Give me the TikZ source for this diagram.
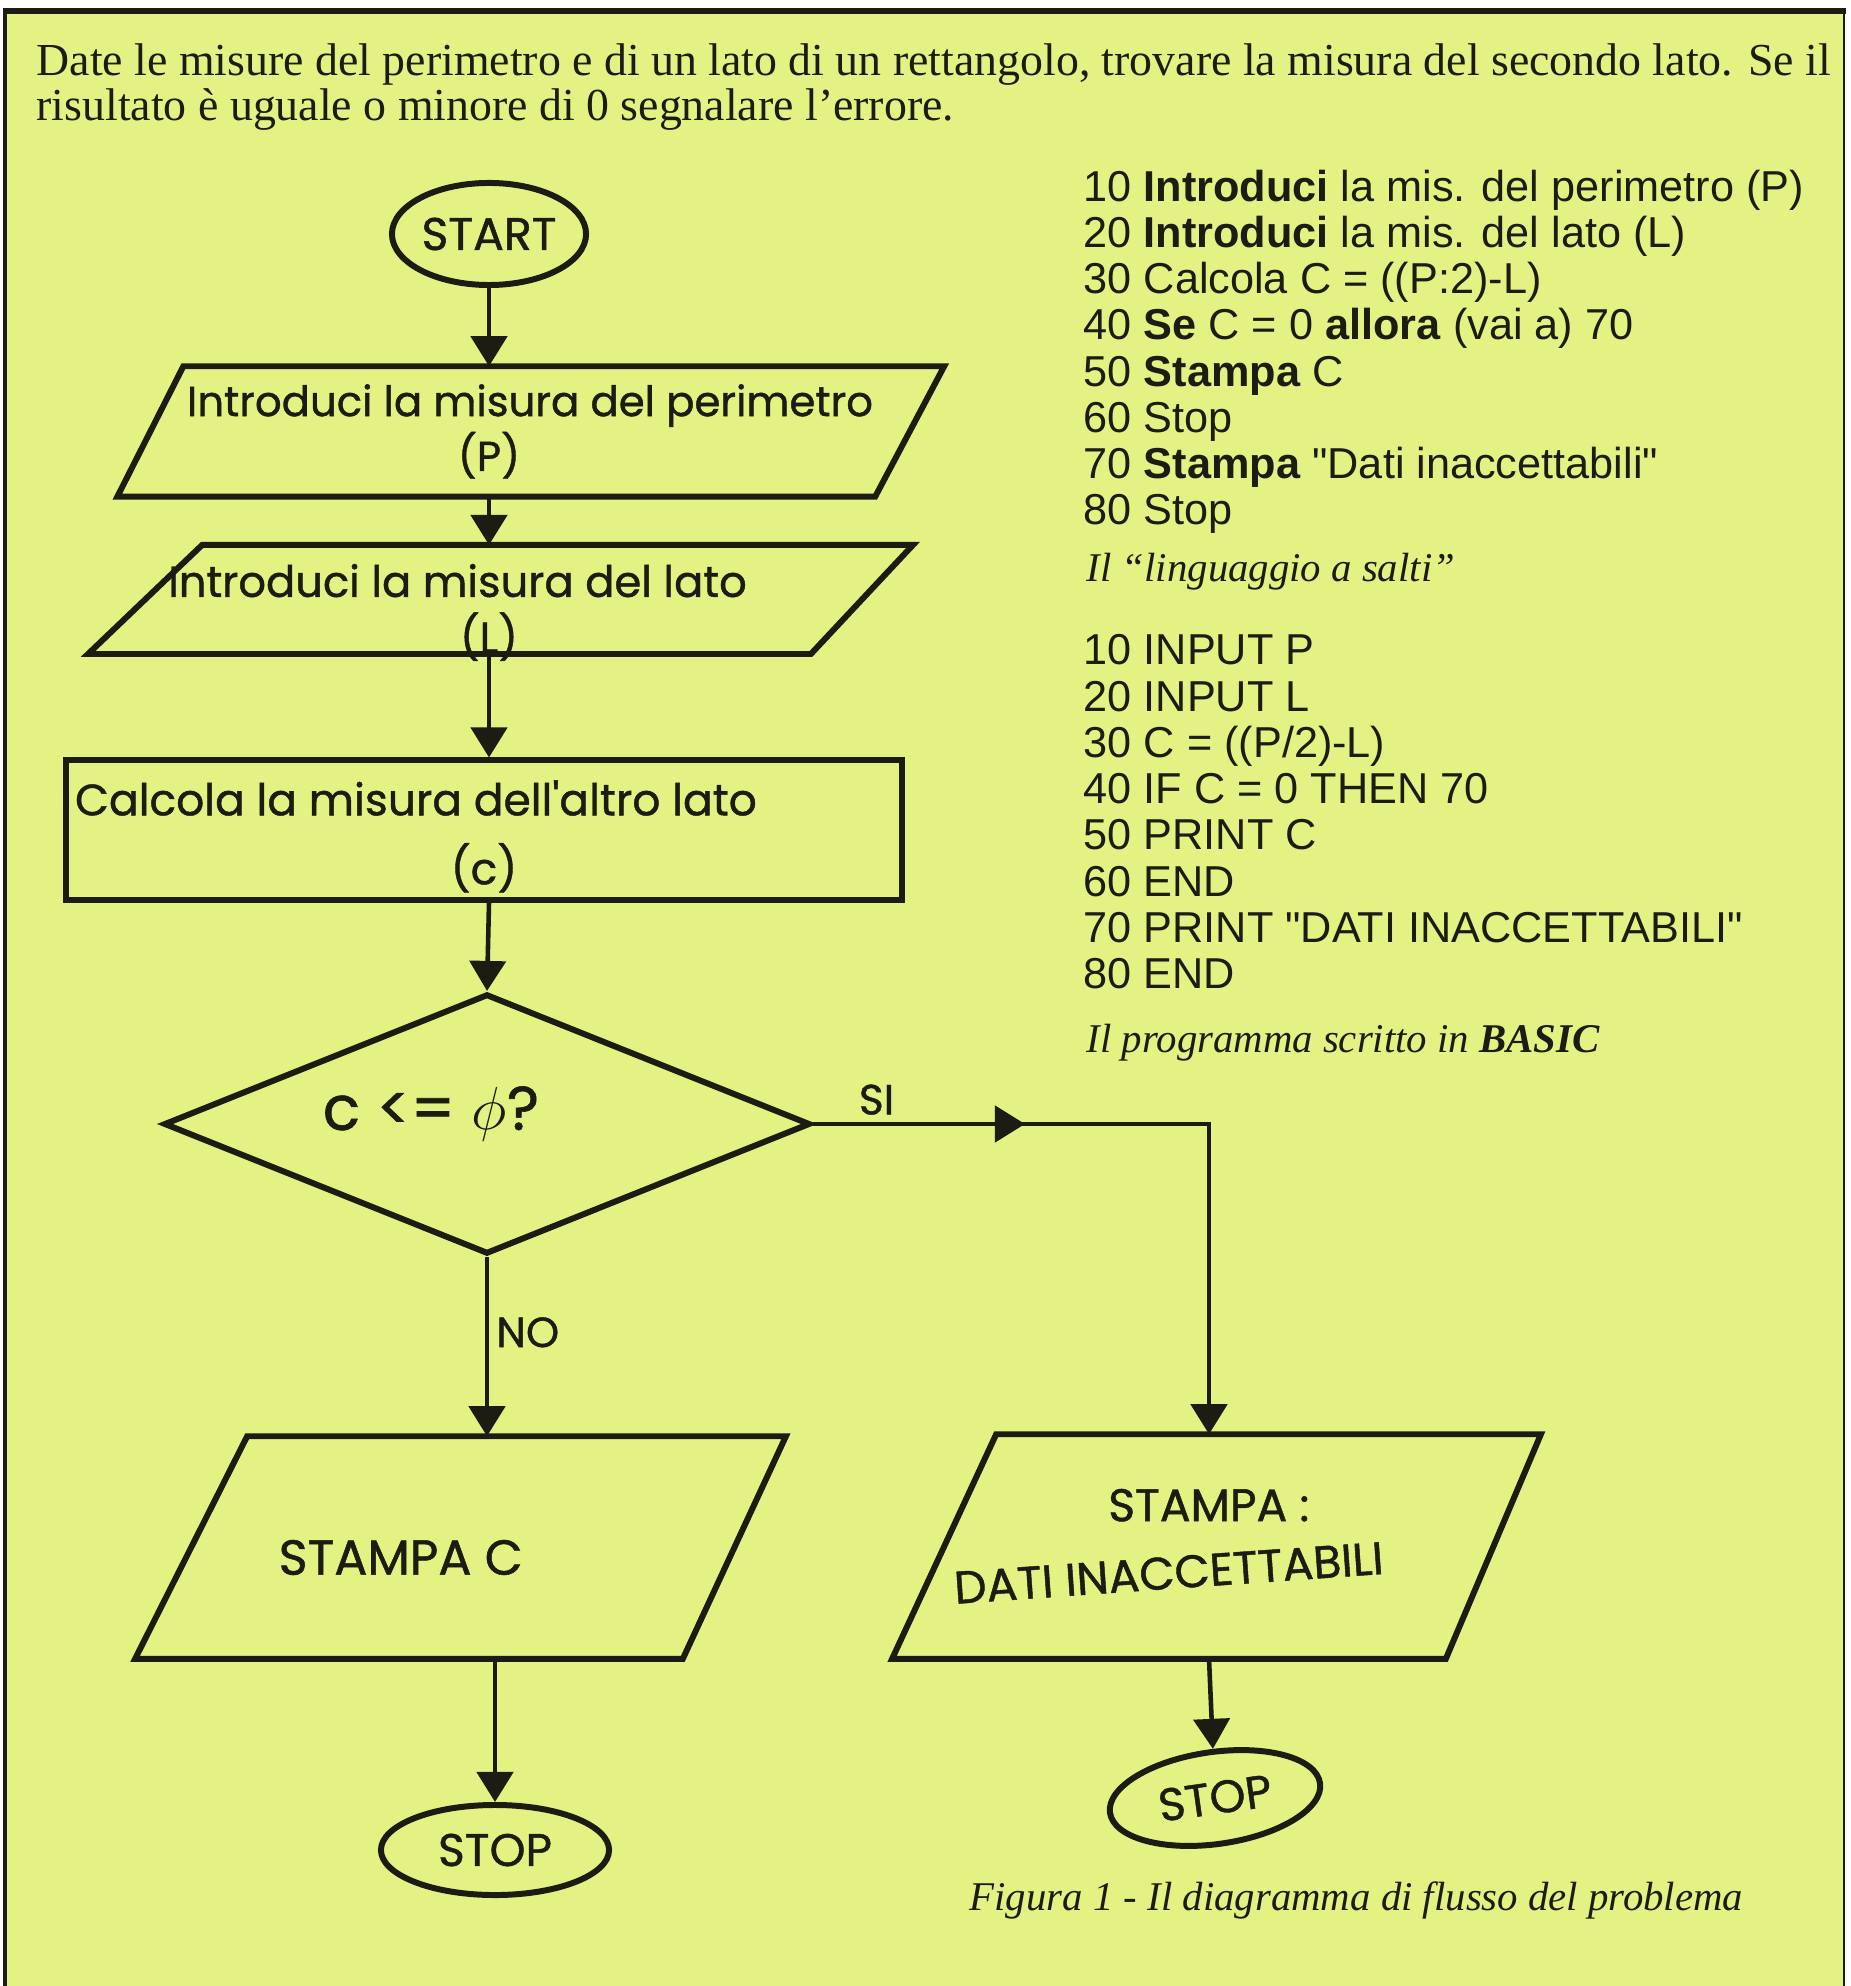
\documentclass[tikz,border=0pt]{standalone}
\usepackage{fontspec}
\setmainfont{Liberation Serif}
\setsansfont{Liberation Sans}
\newfontfamily\hand{Poppins}[FakeBold=1]
\usetikzlibrary{arrows.meta,shapes.geometric,decorations.markings}
\definecolor{paper}{RGB}{228,242,132}
\definecolor{ink}{RGB}{28,28,18}
\tikzset{
  pen/.style={draw=ink,line width=1.7pt},
  wire/.style={draw=ink,line width=1.3pt},
  flow/.style={wire,-{Triangle[length=0.3cm,width=0.36cm]}},
  midarrow/.style={postaction={decorate},decoration={markings,
    mark=at position #1 with {\arrow[ink]{Triangle[length=0.3cm,width=0.36cm]}}}},
  term/.style={ellipse,pen,inner sep=0pt,text=ink,font=\hand\fontsize{13}{15}\selectfont},
  io/.style={rectangle,inner sep=0pt,align=center,text=ink},
  proc/.style={rectangle,pen,inner sep=0pt,align=center,text=ink},
  test/.style={diamond,pen,inner sep=0pt,text=ink,font=\hand\fontsize{17.5}{20}\selectfont},
  lab/.style={text=ink,inner sep=2pt,font=\hand\fontsize{12}{14}\selectfont},
  listing/.style={align=left,inner sep=0pt,text=ink,font=\sffamily\fontsize{12.3}{13.15}\selectfont},
  note/.style={inner sep=0pt,text=ink,font=\itshape\fontsize{11.6}{14}\selectfont}
}
% slanted outline round an io node: #2 = shift of the left corners, #3 = of the right ones
\newcommand\ioframe[3]{\draw[pen] ([xshift=#2]#1.north west) -- ([xshift=#3]#1.north east)
  -- ([xshift=-#3]#1.south east) -- ([xshift=-#2]#1.south west) -- cycle;}
% two centred lines, lowered by #1
\newcommand\twolines[3]{\raisebox{#1}[\height][\depth]{\begin{tabular}{@{}c@{}}#2\\#3\end{tabular}}}

\begin{document}
\begin{tikzpicture}[x=0.01cm,y=-0.01cm]
  \useasboundingbox (0,0) rectangle (1850,1986);
  \fill[paper] (5,11) rectangle (1844,1986);
  \draw[ink,line width=1.8pt] (3,11) -- (1846,11);
  \draw[ink,line width=1pt] (5,11) -- (5,1986);
  \draw[ink,line width=0.8pt] (1844,11) -- (1844,1986);

  \node[anchor=north west,align=left,inner sep=0pt,text=ink,font=\fontsize{13.03}{12.8}\selectfont] (task) at (36,43)
    {Date le misure del perimetro e di un lato di un rettangolo, trovare la misura del secondo lato. Se il\\
     risultato è uguale o minore di 0 segnalare l'errore.};

  \node[term,minimum width=1.94cm,minimum height=1.02cm] (start) at (489,234) {START};
  \node[io,minimum width=7.575cm,minimum height=1.29cm,font=\hand\fontsize{11.9}{15.6}\selectfont] (in1) at (530,431.5)
    {Introduci la misura del perimetro\\\hspace*{-0.82cm}(P)};
  \ioframe{in1}{0.33cm}{0.345cm}
  \node[io,minimum width=7.15cm,minimum height=1.05cm,font=\hand\fontsize{12.3}{14.7}\selectfont] (in2) at (503.5,599.5)
    {\twolines{-0.15cm}{\hspace*{-0.92cm}Introduci la misura del lato}{\hspace*{-0.29cm}(L)}};
  \ioframe{in2}{0.57cm}{0.51cm}
  \node[proc,minimum width=8.36cm,minimum height=1.39cm,font=\hand\fontsize{12.5}{19.6}\selectfont] (calc) at (484,830)
    {\twolines{-0.06cm}{\hspace*{-1.36cm}Calcola la misura dell'altro lato}{(c)}};
  \node[test,minimum width=6.46cm,minimum height=2.6cm] (test) at (487,1124)
    {\hspace*{-1.12cm}\raisebox{0.1cm}[\height][\depth]{c <= $\phi$?}};
  \node[io,minimum width=5.415cm,minimum height=2.21cm,font=\hand\fontsize{14}{16}\selectfont] (out1) at (462.75,1547.5)
    {\hspace*{-1.24cm}\raisebox{-0.1cm}[\height][\depth]{STAMPA C}};
  \ioframe{out1}{0.56cm}{0.515cm}
  \node[io,minimum width=5.475cm,minimum height=2.23cm,font=\hand\fontsize{13}{23.5}\selectfont] (out2) at (1218.75,1546.5)
    {\hspace*{-0.2cm}STAMPA :\\\hspace*{-1cm}\rotatebox{4}{DATI INACCETTABILI}};
  \ioframe{out2}{0.52cm}{0.475cm}
  \node[term,minimum width=2.28cm,minimum height=0.9cm] (stop1) at (495,1850) {STOP};
  \node[term,minimum width=2.12cm,minimum height=0.92cm,rotate=8] (stop2) at (1215,1798) {STOP};
  \coordinate (bend) at (1209,1124);

  \draw[flow] (start) -- (start |- in1.north);
  \draw[flow] (start |- in1.south) -- (start |- in2.north);
  \draw[flow] (start |- in2.south) -- (start |- calc.north);
  \draw[flow] (start |- calc.south) -- (test.north);
  \draw[flow] (test.south) -- node[lab,right,pos=0.42] {NO} (test.south |- out1.north);
  \draw[flow,midarrow=0.3] (test.east) -- node[lab,above,pos=0.16] {SI} (bend) -- (bend |- out2.north);
  \draw[flow] (stop1 |- out1.south) -- (stop1.north);
  \draw[flow] (bend |- out2.south) -- (stop2);

  \node[listing,anchor=north west] (jumps) at (1083,169)
    {10 \textbf{Introduci} la mis. del perimetro (P)\\
     20 \textbf{Introduci} la mis. del lato (L)\\
     30 Calcola C = ((P:2)-L)\\
     40 \textbf{Se} C = 0 \textbf{allora} (vai a) 70\\
     50 \textbf{Stampa} C\\
     60 Stop\\
     70 \textbf{Stampa} \textquotedbl Dati inaccettabili\textquotedbl\\
     80 Stop};
  \node[note,anchor=west] (jumpsnote) at (1086,572) {Il ``linguaggio a salti''};
  \node[listing,anchor=north west] (basic) at (1083,634)
    {10 INPUT P\\
     20 INPUT L\\
     30 C = ((P/2)-L)\\
     40 IF C = 0 THEN 70\\
     50 PRINT C\\
     60 END\\
     70 PRINT \textquotedbl DATI INACCETTABILI\textquotedbl\\
     80 END};
  \node[note,anchor=west] (basicnote) at (1086,1043) {Il programma scritto in \textbf{BASIC}};
  \node[note,anchor=west] (caption) at (969,1900) {Figura 1 - Il diagramma di flusso del problema};
\end{tikzpicture}
\end{document}
